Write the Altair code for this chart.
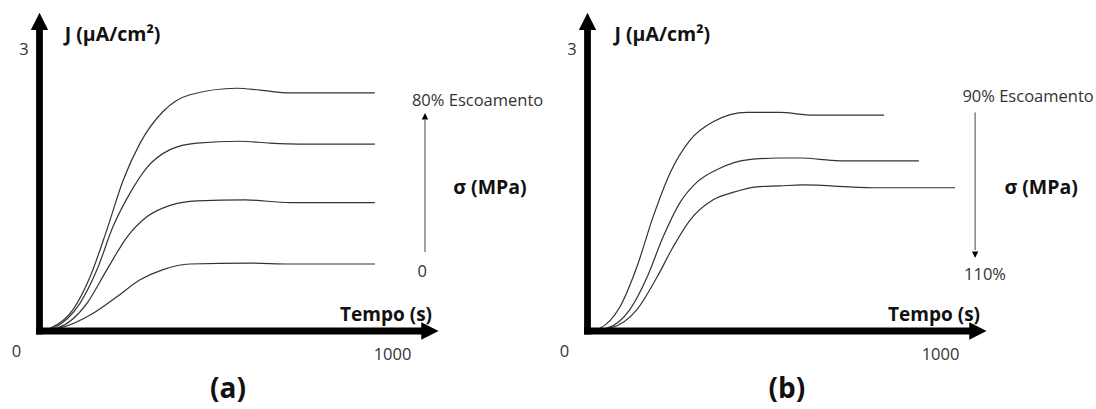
import altair as alt
import pandas as pd

# ---------------- curve data (time in s, current density J in µA/cm²) ----------------
# Panel (a): four curves, stress from 0 up to 80% of yield
A1_T = [0, 30, 95, 143, 191, 237, 285, 350, 426, 559, 625, 710, 950]
A1_J = [0, 0.03, 0.23, 0.58, 1.09, 1.62, 2.02, 2.36, 2.54, 2.61, 2.59, 2.56, 2.56]
A2_T = [0, 38, 115, 163, 208, 256, 305, 370, 446, 568, 653, 738, 950]
A2_J = [0, 0.03, 0.30, 0.66, 1.12, 1.48, 1.76, 1.95, 2.02, 2.04, 2.02, 2.01, 2.01]
A3_T = [0, 50, 135, 191, 248, 305, 370, 446, 582, 710, 950]
A3_J = [0, 0.03, 0.30, 0.66, 1.01, 1.23, 1.35, 1.40, 1.41, 1.38, 1.38]
A4_T = [0, 58, 152, 220, 285, 350, 426, 596, 710, 950]
A4_J = [0, 0.03, 0.19, 0.37, 0.55, 0.66, 0.72, 0.73, 0.72, 0.72]

# Panel (b): three curves, stress from 90% to 110% of yield
B1_T = [0, 35, 92, 140, 186, 234, 290, 356, 452, 545, 639, 840]
B1_J = [0, 0.03, 0.26, 0.69, 1.23, 1.70, 2.05, 2.25, 2.35, 2.35, 2.32, 2.32]
B2_T = [0, 55, 120, 169, 214, 262, 310, 375, 452, 545, 602, 715, 939]
B2_J = [0, 0.03, 0.23, 0.58, 1.01, 1.38, 1.60, 1.75, 1.84, 1.86, 1.86, 1.83, 1.83]
B3_T = [0, 64, 140, 197, 242, 290, 356, 412, 480, 545, 610, 809, 1041]
B3_J = [0, 0.03, 0.23, 0.58, 0.90, 1.19, 1.41, 1.49, 1.55, 1.56, 1.57, 1.54, 1.54]

# ---------------- tick / annotation texts ----------------
Y_TICK = "3"
X_TICKS = ["0", "1000"]
Y_TITLE = "J (µA/cm²)"
X_TITLE = "Tempo (s)"
SIGMA_TITLE = "σ (MPa)"
A_SIGMA_LABELS = ["80% Escoamento", "0"]
B_SIGMA_LABELS = ["90% Escoamento", "110%"]
TAGS = ["(a)", "(b)"]

# ---------------- layout helpers (scale geometry) ----------------
X_DOMAIN = [-111.9, 1440.5]
Y_DOMAIN = [-0.839, 3.559]
W, H = 548, 409
FONT = "Open Sans"

xs = alt.Scale(domain=X_DOMAIN, nice=False, zero=False)
ys = alt.Scale(domain=Y_DOMAIN, nice=False, zero=False)
X = alt.X("t:Q", scale=xs, axis=None)
Y = alt.Y("J:Q", scale=ys, axis=None)

ARROW = "M-1,1L0,-1L1,1Z"


def curves_df(pairs):
    rows = []
    for i, (ts, js) in enumerate(pairs):
        for t, j in zip(ts, js):
            rows.append({"s": i, "t": t, "J": j})
    return pd.DataFrame(rows)


def build_panel(pairs, sig_x, sig_lo, sig_hi, head_j, head_angle,
                sig_labels, sig_label_pos, sigma_t, jtitle_t, tag, tag_t):
    lines = alt.Chart(curves_df(pairs)).mark_line(
        interpolate="monotone", color="#333333", strokeWidth=1.2
    ).encode(x=X, y=Y, detail="s:N")

    # thick main axes
    ax = pd.DataFrame({"t": [0, 0], "J": [0, 0], "t2": [0, 1090], "J2": [3.25, 0]})
    axes = alt.Chart(ax).mark_rule(
        color="black", strokeWidth=6.8, strokeCap="square"
    ).encode(x=X, y=Y, x2="t2:Q", y2="J2:Q")

    heads = pd.DataFrame({"t": [0, 1106, sig_x], "J": [3.33, 0, head_j],
                          "a": [0, 90, head_angle], "sz": [300, 300, 42]})
    arrow_heads = alt.Chart(heads).mark_point(
        shape=ARROW, filled=True, color="black", opacity=1, strokeWidth=0
    ).encode(x=X, y=Y,
             angle=alt.Angle("a:Q", scale=None),
             size=alt.Size("sz:Q", scale=None))

    sig = pd.DataFrame({"t": [sig_x], "J": [sig_lo], "t2": [sig_x], "J2": [sig_hi]})
    sig_rule = alt.Chart(sig).mark_rule(color="#444444", strokeWidth=1).encode(
        x=X, y=Y, x2="t2:Q", y2="J2:Q")

    small = pd.DataFrame({
        "t": [-44, -65, 1000, sig_label_pos[0][0], sig_label_pos[1][0]],
        "J": [3.02, -0.23, -0.26, sig_label_pos[0][1], sig_label_pos[1][1]],
        "label": [Y_TICK, X_TICKS[0], X_TICKS[1], sig_labels[0], sig_labels[1]],
    })
    small_txt = alt.Chart(small).mark_text(
        font=FONT, fontSize=16.5, color="#333333", align="center", baseline="middle"
    ).encode(x=X, y=Y, text="label:N")

    bold = pd.DataFrame({"t": [jtitle_t, sigma_t], "J": [3.18, 1.54],
                         "label": [Y_TITLE, SIGMA_TITLE]})
    bold_txt = alt.Chart(bold).mark_text(
        font=FONT, fontSize=19.5, fontWeight="bold", color="#111111",
        align="center", baseline="middle"
    ).encode(x=X, y=Y, text="label:N")

    tempo = pd.DataFrame({"t": [1112], "J": [0.17], "label": [X_TITLE]})
    tempo_txt = alt.Chart(tempo).mark_text(
        font=FONT, fontSize=19, fontWeight="bold", color="#111111",
        align="right", baseline="middle"
    ).encode(x=X, y=Y, text="label:N")

    tagd = pd.DataFrame({"t": [tag_t], "J": [-0.63], "label": [tag]})
    tag_txt = alt.Chart(tagd).mark_text(
        font=FONT, fontSize=28, fontWeight="bold", color="#111111",
        align="center", baseline="middle"
    ).encode(x=X, y=Y, text="label:N")

    return alt.layer(lines, axes, arrow_heads, sig_rule, small_txt, bold_txt,
                     tempo_txt, tag_txt).properties(width=W, height=H)


panel_a = build_panel(
    [(A1_T, A1_J), (A2_T, A2_J), (A3_T, A3_J), (A4_T, A4_J)],
    sig_x=1092, sig_lo=0.85, sig_hi=2.27, head_j=2.31, head_angle=0,
    sig_labels=A_SIGMA_LABELS, sig_label_pos=[(1241, 2.47), (1084, 0.63)],
    sigma_t=1276, jtitle_t=207, tag=TAGS[0], tag_t=534,
)
panel_b = build_panel(
    [(B1_T, B1_J), (B2_T, B2_J), (B3_T, B3_J)],
    sig_x=1098, sig_lo=2.35, sig_hi=0.87, head_j=0.82, head_angle=180,
    sig_labels=B_SIGMA_LABELS, sig_label_pos=[(1248, 2.52), (1126, 0.60)],
    sigma_t=1285, jtitle_t=212, tag=TAGS[1], tag_t=565,
)

chart = alt.hconcat(panel_a, panel_b, spacing=0).properties(
    padding=0, background="white",
).configure_view(stroke=None)

chart.save("out.html", embed_options={"renderer": "svg", "actions": False})
